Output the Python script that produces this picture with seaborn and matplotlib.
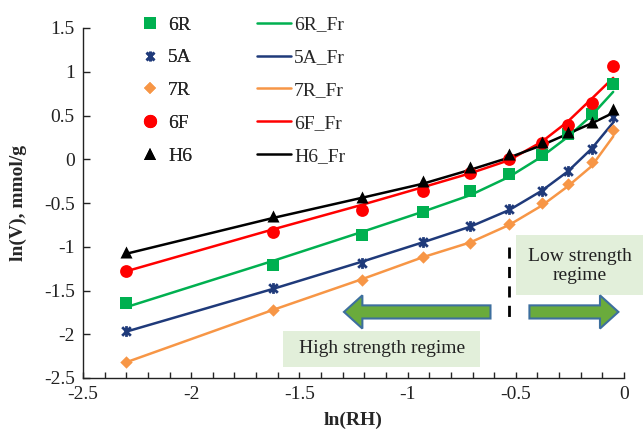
import numpy as np
import pandas as pd
import matplotlib
matplotlib.use("Agg")
import matplotlib.pyplot as plt
import seaborn as sns
from matplotlib.path import Path
from matplotlib.lines import Line2D
from matplotlib.patches import FancyArrow, Rectangle
from matplotlib.ticker import FuncFormatter, MultipleLocator

# ---------------- data ----------------
ln_rh = [-2.30, -1.62, -1.21, -0.93, -0.71, -0.53, -0.38, -0.26, -0.15, -0.05]

v_6R = [-1.64, -1.21, -0.86, -0.60, -0.36, -0.165, 0.045, 0.285, 0.52, 0.86]
v_5A = [-1.96, -1.47, -1.18, -0.945, -0.765, -0.565, -0.36, -0.13, 0.12, 0.48]
v_7R = [-2.32, -1.72, -1.38, -1.12, -0.96, -0.735, -0.505, -0.278, -0.03, 0.34]
v_6F = [-1.28, -0.83, -0.575, -0.36, -0.16, 0.0, 0.19, 0.39, 0.64, 1.07]
v_H6 = [-1.06, -0.65, -0.43, -0.25, -0.09, 0.06, 0.20, 0.31, 0.43, 0.58]

fr_6R = [-1.69, -1.16, -0.83, -0.60, -0.41, -0.20, 0.03, 0.255, 0.50, 0.77]
fr_5A = [-1.97, -1.48, -1.17, -0.95, -0.77, -0.58, -0.36, -0.14, 0.12, 0.42]
fr_7R = [-2.32, -1.72, -1.37, -1.12, -0.95, -0.75, -0.53, -0.31, -0.08, 0.26]
fr_6F = [-1.28, -0.80, -0.52, -0.32, -0.16, -0.01, 0.20, 0.43, 0.69, 0.93]
fr_H6 = [-1.08, -0.67, -0.44, -0.28, -0.12, 0.02, 0.16, 0.29, 0.41, 0.53]

series_names = ["6R", "5A", "7R", "6F", "H6"]
x_ticks = [-2.5, -2, -1.5, -1, -0.5, 0]
y_ticks = [-2.5, -2, -1.5, -1, -0.5, 0, 0.5, 1, 1.5]

# ---------------- style ----------------
sns.set_style("ticks")
plt.rcParams["font.family"] = ["Liberation Serif", "DejaVu Serif"]
plt.rcParams["axes.unicode_minus"] = False
FS = 14

colors = {"6R": "#00b050", "5A": "#1f3a7a", "7R": "#f79646", "6F": "#ff0000", "H6": "#000000"}
star = Path([(-1, -1), (1, 1), (-1, 1), (1, -1), (0, -1.25), (0, 1.25)],
            [Path.MOVETO, Path.LINETO, Path.MOVETO, Path.LINETO, Path.MOVETO, Path.LINETO])
markers = {"6R": "s", "5A": star, "7R": "D", "6F": "o", "H6": "^"}
sizes = {"6R": 70, "5A": 60, "7R": 40, "6F": 85, "H6": 75}

vals = {"6R": v_6R, "5A": v_5A, "7R": v_7R, "6F": v_6F, "H6": v_H6}
frs = {"6R": fr_6R, "5A": fr_5A, "7R": fr_7R, "6F": fr_6F, "H6": fr_H6}

fig = plt.figure(figsize=(6.43, 4.34), dpi=100)
ax = fig.add_axes([83 / 643, 1 - 378 / 434, (624 - 83) / 643, (378 - 28) / 434])

for name in series_names:
    df_fr = pd.DataFrame({"x": ln_rh, "y": frs[name]})
    sns.lineplot(data=df_fr, x="x", y="y", ax=ax, color=colors[name], lw=1.8,
                 sort=False, estimator=None, legend=False, zorder=2)

for name in series_names:
    df = pd.DataFrame({"x": ln_rh, "y": vals[name]})
    if name == "5A":
        sns.scatterplot(data=df, x="x", y="y", ax=ax, marker=star, s=sizes[name],
                        color=colors[name], edgecolor=colors[name], linewidth=2.0,
                        legend=False, zorder=3)
    else:
        sns.scatterplot(data=df, x="x", y="y", ax=ax, marker=markers[name], s=sizes[name],
                        color=colors[name], linewidth=0, legend=False, zorder=3)

ax.set_xlim(-2.5, 0)
ax.set_ylim(-2.5, 1.5)
ax.set_xticks(x_ticks)
ax.set_yticks(y_ticks)
ax.xaxis.set_minor_locator(MultipleLocator(0.1))
fmt = FuncFormatter(lambda v, p: "%g" % v)
ax.xaxis.set_major_formatter(fmt)
ax.yaxis.set_major_formatter(fmt)
ax.tick_params(axis="both", which="major", direction="in", length=5, width=1,
               labelsize=FS, colors="#222222")
ax.tick_params(axis="x", which="both", direction="in", length=4.5, width=1, pad=6)
ax.tick_params(axis="y", which="major", pad=6)
sns.despine(ax=ax)
for s in ["left", "bottom"]:
    ax.spines[s].set_color("#222222")
    ax.spines[s].set_linewidth(1)

ax.set_xlabel("ln(RH)", fontsize=FS, fontweight="bold", labelpad=6)
ax.set_ylabel("ln(V), mmol/g", fontsize=FS, fontweight="bold", labelpad=12)

# regime divider
ax.plot([-0.53, -0.53], [-1.0, -1.87], color="black", lw=2, dashes=(4, 3), zorder=2)

# arrows
arrow_kw = dict(length_includes_head=True, facecolor="#6aab3c", edgecolor="#3d6f9e",
                lw=1.5, zorder=4)
ax.add_patch(FancyArrow(-0.617, -1.745, -0.677, 0, width=0.15, head_width=0.38,
                        head_length=0.085, **arrow_kw))
ax.add_patch(FancyArrow(-0.437, -1.745, 0.411, 0, width=0.15, head_width=0.38,
                        head_length=0.085, **arrow_kw))

# regime labels
ax.add_patch(Rectangle((-1.575, -2.371), 0.91, 0.409, facecolor="#e2efda",
                       edgecolor="none", zorder=1))
ax.text(-1.12, -2.166, "High strength regime", fontsize=FS, ha="center", va="center",
        color="#222222", zorder=5)
ax.add_patch(Rectangle((-0.499, -1.554), 0.6, 0.685, facecolor="#e2efda",
                       edgecolor="none", zorder=1, clip_on=False))
ax.text(-0.203, -1.22, "Low strength\nregime", fontsize=FS, ha="center", va="center",
        color="#222222", linespacing=1.1, zorder=5, clip_on=False)

# legends
mk_handles = []
ln_handles = []
for name in series_names:
    if name == "5A":
        mk_handles.append(Line2D([], [], ls="none", marker=star, markersize=7,
                                 color=colors[name], markeredgewidth=2))
    else:
        ms = {"6R": 8.5, "7R": 6.5, "6F": 9.5, "H6": 9}[name]
        mk_handles.append(Line2D([], [], ls="none", marker=markers[name], markersize=ms,
                                 color=colors[name], markeredgewidth=0))
    ln_handles.append(Line2D([], [], color=colors[name], lw=1.8))

leg1 = fig.legend(mk_handles, series_names, loc="upper left",
                  bbox_to_anchor=(140 / 643, 1 - 16 / 434), frameon=False, fontsize=FS,
                  handlelength=1.0, handletextpad=0.45, labelspacing=0.78,
                  borderpad=0, borderaxespad=0)
fig.add_artist(leg1)
fig.legend(ln_handles, [n + "_Fr" for n in series_names], loc="upper left",
           bbox_to_anchor=(257 / 643, 1 - 16 / 434), frameon=False, fontsize=FS,
           handlelength=1.75, handletextpad=0.15, labelspacing=0.78,
           borderpad=0, borderaxespad=0)

fig.savefig("out.png", dpi=100)
